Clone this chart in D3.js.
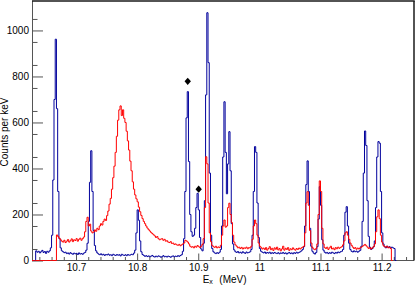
<!DOCTYPE html>
<html><head><meta charset="utf-8">
<script src="https://cdn.jsdelivr.net/npm/d3@7"></script>
<style>
body{margin:0;background:#fff}
svg{display:block}
text{font-family:"Liberation Sans",Arial,Helvetica,sans-serif;font-size:10px;fill:#000}
</style>
</head><body>
<svg id="c" width="415" height="285"></svg>
<script>
// ---- data ----
const binStart = 10.628;   // MeV, left edge of first bin
const binWidth = 0.002;    // MeV (2 keV bins)
const blueCounts = [
0,0,0,42,36,40,33,38,44,35,39,31,40,36,42,55,110,350,700,962,
660,300,95,55,42,38,34,36,30,33,28,34,30,27,32,29,31,26,33,28,
30,27,32,35,45,75,170,340,477,300,130,65,42,33,28,25,29,24,27,22,
26,24,28,23,25,21,27,24,22,26,23,25,20,27,24,22,25,21,26,23,
24,27,25,32,45,120,220,175,85,38,26,22,18,21,17,20,16,19,22,17,
15,19,16,20,18,14,17,21,16,18,15,19,17,14,18,20,16,19,17,21,
18,22,25,40,95,300,620,734,430,200,125,105,110,140,230,292,220,100,50,42,
75,260,720,1077,860,380,110,52,38,33,30,34,31,36,48,150,450,690,470,290,
420,560,390,160,72,46,38,35,39,33,36,32,38,34,31,37,33,35,38,48,
110,300,495,470,250,100,52,40,36,33,37,31,35,32,36,30,34,31,35,32,
30,34,29,33,31,35,30,33,28,32,35,30,33,29,34,31,36,32,35,38,
42,48,60,150,330,433,300,140,62,40,32,28,35,60,180,321,240,90,45,36,
32,35,30,34,31,36,33,30,35,32,37,34,38,40,48,110,210,234,150,75,
48,40,37,42,38,41,36,40,44,62,170,380,563,500,260,105,58,48,52,60,
85,230,450,517,510,300,120,72,60,55,62,57,60,54,58,55,52,0
];
const redCounts = [
0,0,0,0,0,0,0,0,0,0,0,0,0,0,0,0,0,0,0,0,
111,104,97,90,84,80,88,78,84,91,80,86,94,82,90,87,95,84,92,97,
88,95,102,125,170,188,150,158,128,120,124,133,127,140,134,150,160,154,170,180,
174,195,215,245,270,310,360,410,470,540,610,655,672,630,655,618,600,562,520,480,
432,390,342,310,285,268,255,232,212,196,182,170,160,150,141,134,128,122,117,112,
107,100,104,95,90,93,95,88,92,84,86,80,78,82,74,76,70,72,68,66,
70,64,68,72,76,88,85,80,72,62,58,60,55,62,58,65,60,56,62,70,
95,230,451,420,250,120,82,66,60,57,62,55,59,56,66,110,150,176,145,150,
230,249,200,165,110,80,68,62,55,58,52,57,50,55,53,58,51,56,54,62,
92,150,176,160,110,76,62,57,50,54,48,56,45,52,60,47,53,44,55,49,
58,46,52,42,50,62,45,53,48,56,44,51,47,55,49,45,52,48,54,50,
55,58,62,120,250,299,240,130,76,56,50,47,52,72,200,346,300,140,72,56,
52,58,48,55,62,50,54,47,56,51,58,53,57,60,68,85,120,125,110,92,
76,66,58,52,56,49,54,50,55,58,62,66,70,64,58,52,56,50,55,60,
72,125,190,220,182,110,80,66,60,58,62,55,58,52,0
];
const xMajorTicks = [10.7, 10.8, 10.9, 11.0, 11.1, 11.2];
const xTickLabels = ["10.7", "10.8", "10.9", "11", "11.1", "11.2"];
const yMajorTicks = [0, 200, 400, 600, 800, 1000];
const yTickLabels = ["0", "200", "400", "600", "800", "1000"];
const markerE = [10.8828, 10.9007];
const markerV = [779, 310];

// ---- layout ----
const L = 32, R = 414, T = 1, B = 260.5;
const xDomain = [10.628, 11.253], yDomain = [0, 1128];
const x = d3.scaleLinear().domain(xDomain).range([L, R]);
const y = d3.scaleLinear().domain(yDomain).range([B, T]);
const svg = d3.select("#c");

const xMinor = d3.range(10.64, 11.2401, 0.02).map(v => +v.toFixed(3))
  .filter(v => !xMajorTicks.some(m => Math.abs(m - v) < 1e-6));
const yMinor = d3.range(50, 1101, 100);

function histPoints(vals) {
  const pts = vals.map((v, i) => [binStart + i * binWidth, v]);
  pts.push([binStart + vals.length * binWidth, vals[vals.length - 1]]);
  return pts;
}
const line = d3.line().x(d => x(d[0])).y(d => y(d[1])).curve(d3.curveStepAfter);

const axCol = "#555";
// bottom & left axis lines first (histogram zero-line visible above them)
svg.append("line").attr("x1", L).attr("x2", R).attr("y1", B).attr("y2", B).attr("stroke", axCol);
svg.append("line").attr("x1", L + 0.5).attr("x2", L + 0.5).attr("y1", T).attr("y2", B).attr("stroke", axCol);

// axes ticks
const gx = svg.append("g").attr("transform", `translate(0,${B})`)
  .call(d3.axisBottom(x).tickValues(xMajorTicks).tickFormat((d, i) => xTickLabels[i])
    .tickSize(-7).tickPadding(3.5));
const gxm = svg.append("g").attr("transform", `translate(0,${B})`)
  .call(d3.axisBottom(x).tickValues(xMinor).tickFormat("").tickSize(-3.5));
const gy = svg.append("g").attr("transform", `translate(${L},0)`)
  .call(d3.axisLeft(y).tickValues(yMajorTicks).tickFormat((d, i) => yTickLabels[i])
    .tickSize(-11).tickPadding(3));
const gym = svg.append("g").attr("transform", `translate(${L},0)`)
  .call(d3.axisLeft(y).tickValues(yMinor).tickFormat("").tickSize(-5.5));
[gx, gxm, gy, gym].forEach(g => {
  g.select(".domain").remove();
  g.selectAll("line").attr("stroke", axCol);
  g.selectAll("text").attr("font-family", null).attr("font-size", null).attr("fill", "#000");
});

// histograms
svg.append("path").attr("d", line(histPoints(blueCounts)))
  .attr("fill", "none").attr("stroke", "#00009c").attr("stroke-width", 1);
svg.append("path").attr("d", line(histPoints(redCounts)))
  .attr("fill", "none").attr("stroke", "#ff0000").attr("stroke-width", 1);

// markers
const dia = "M0,-3.6L3.2,0L0,3.6L-3.2,0Z";
svg.selectAll("path.mk").data(markerE).join("path").attr("class", "mk")
  .attr("d", dia)
  .attr("transform", (d, i) => `translate(${x(d)},${y(markerV[i])})`)
  .attr("fill", "#000");

// top & right frame
svg.append("line").attr("x1", L).attr("x2", R + 0.75).attr("y1", T).attr("y2", T).attr("stroke", "#1a1a1a").attr("stroke-width", 1.5);
svg.append("line").attr("x1", R).attr("x2", R).attr("y1", T).attr("y2", B).attr("stroke", "#1a1a1a").attr("stroke-width", 1.5);

// titles
const xt = svg.append("text").attr("x", 202.7).attr("y", 282.5);
xt.append("tspan").text("E");
xt.append("tspan").attr("font-size", "7px").attr("dy", 1.5).text("x");
xt.append("tspan").attr("x", 219.3).attr("dy", -1.5).text("(MeV)");
svg.append("text").attr("transform", "translate(8,132) rotate(-90)")
  .attr("text-anchor", "middle").text("Counts per keV");
</script>
</body></html>
